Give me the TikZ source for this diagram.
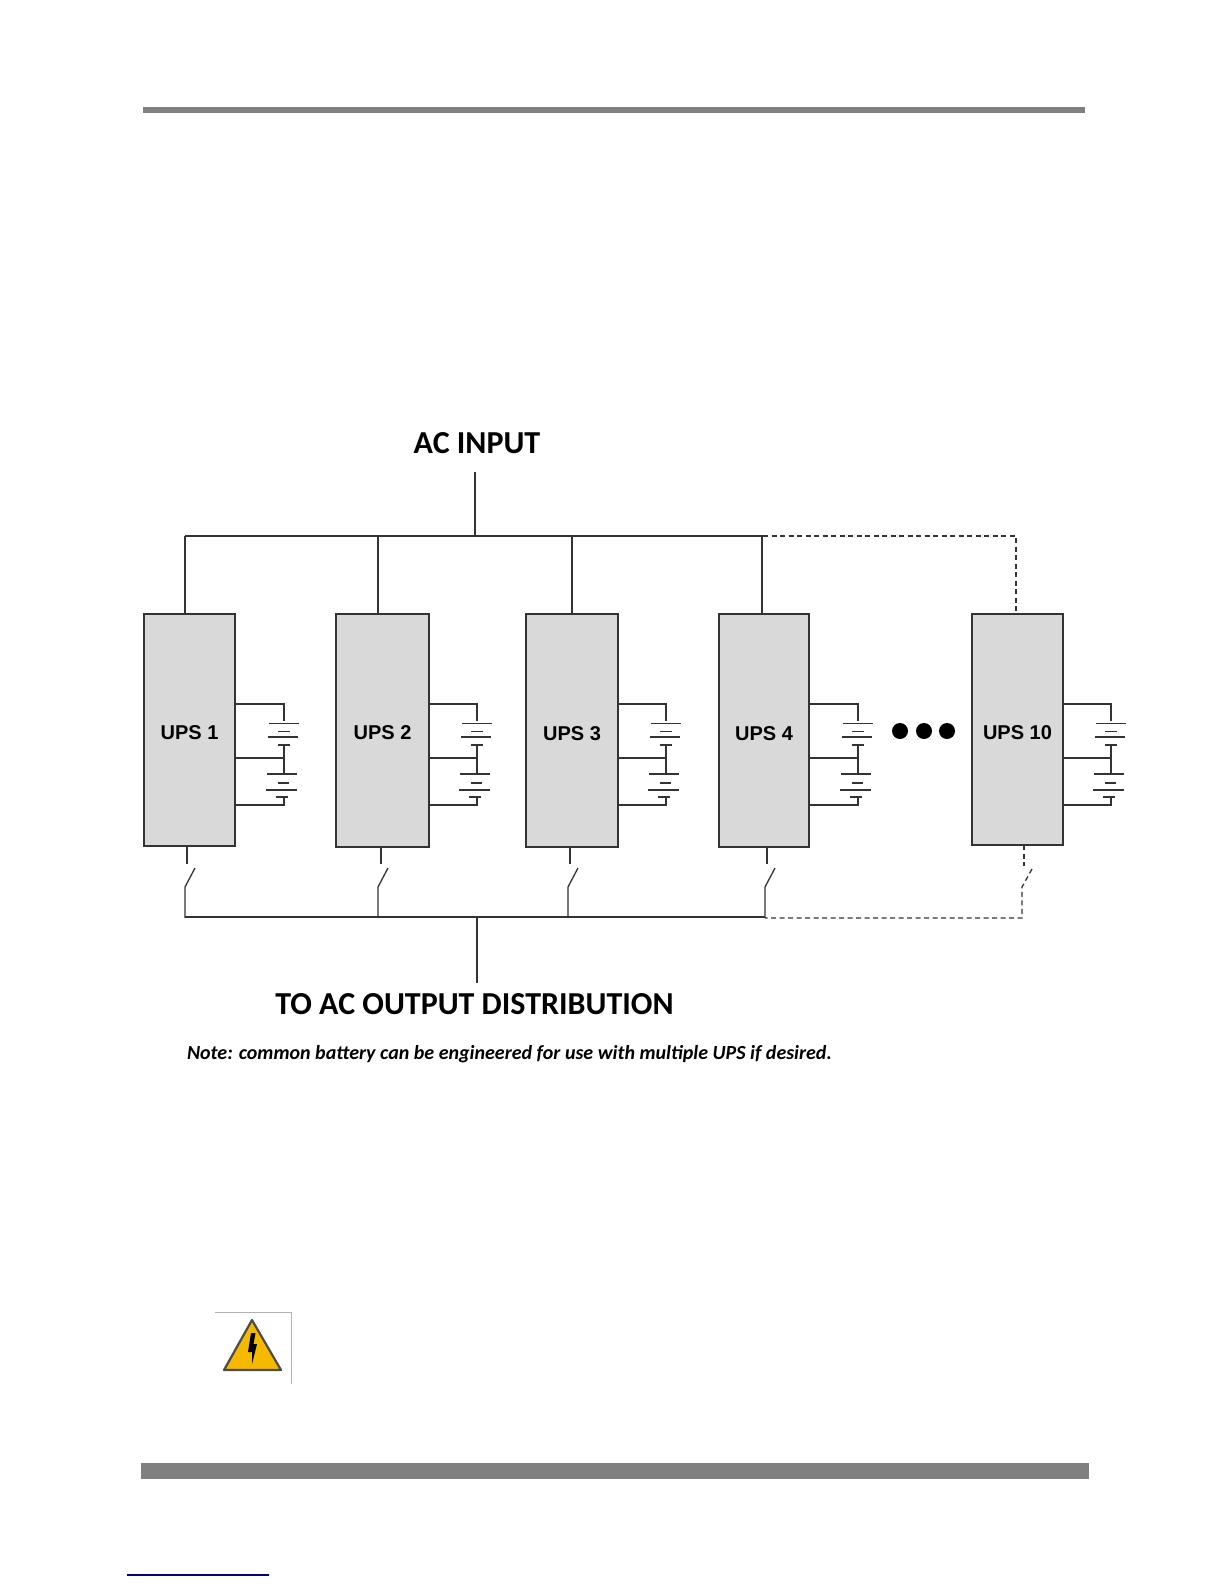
\documentclass[tikz,border=0pt]{standalone}
\usepackage{fontspec}
\setmainfont{Carlito}
\newfontfamily\upsfont{Liberation Sans}
\usetikzlibrary{positioning}
\definecolor{barcol}{HTML}{808080}
\definecolor{upsfill}{HTML}{D9D9D9}
\definecolor{wirecol}{HTML}{333333}
\definecolor{signcol}{HTML}{F5BA00}
\tikzset{
  upsbox/.style = {
    rectangle, draw=wirecol, fill=upsfill, line width=1.3pt,
    inner sep=0pt, outer sep=0pt, minimum width=#1,
    text height=18.3pt, text depth=0pt,
    font=\upsfont\fontsize{20}{22}\selectfont\bfseries
  },
  wire/.style = {line width=1.3pt, wirecol},
  dwire/.style = {line width=1.3pt, wirecol, dash pattern=on 5pt off 3.5pt},
  plate/.style = {line width=1.4pt, wirecol},
  title/.style = {inner sep=0pt, font=\fontsize{32}{34}\selectfont\bfseries},
  dotmark/.style = {circle, fill=black, inner sep=0pt, minimum size=16pt}
}
\begin{document}
\begin{tikzpicture}[x=1pt, y=-1pt]
\useasboundingbox (0,0) rectangle (1224,1584);

% page rules
\fill[barcol] (143,107) rectangle (1085,113);
\fill[barcol] (141,1463) rectangle (1089,1479);
\draw[line width=1.2pt, blue!50!black] (127,1575) -- (269,1575);

% titles
\node[title] (acin) at (477,443) {AC INPUT};
\node[title] (acout) at (474.5,1004) {TO AC OUTPUT DISTRIBUTION};
\node[inner sep=0pt, font=\fontsize{20}{22}\selectfont\bfseries\itshape] (note) at (509.5,1054)
      {Note: common battery can be engineered for use with multiple UPS if desired.};

% UPS blocks
\node[upsbox=91pt, minimum height=232pt] (u1) at (189.5,730) {UPS 1};
\node[upsbox=93pt, minimum height=233pt] (u2) at (382.5,730.5) {UPS 2};
\node[upsbox=92pt, minimum height=233pt, text height=20pt] (u3) at (572,730.5) {UPS 3};
\node[upsbox=90pt, minimum height=233pt, text height=20pt] (u4) at (764,730.5) {UPS 4};
\node[upsbox=91pt, minimum height=231pt, text height=20pt] (u10) at (1017.5,729.5) {UPS 10};

\foreach \x/\y in {900/d1, 924/d2, 947/d3}
  \node[dotmark] (\y) at (\x,731) {};

% input bus
\coordinate (tin) at (475,472);
\coordinate (tbus) at (475,536);
\coordinate (tend) at (763,536);
\draw[wire] (tin) -- (tbus);
\draw[wire] (185,536) -- (tend);
\draw[wire] (185,536) -- (u1.north -| 185,0);
\foreach \u/\x in {u2/378, u3/572, u4/762}
  \draw[wire] (\x,536) -- (\u.north -| \x,0);
\draw[dwire] (tend) -- (1016,536) -- (u10.north -| 1016,0);

% output bus
\coordinate (bbus) at (477,917);
\coordinate (bend) at (765,917);
\draw[wire] (185,917) -- (bend);
\draw[wire] (bbus) -- (477,983);
\foreach \u/\a/\b in {u1/187/185, u2/381/378, u3/570/568, u4/767/765} {
  \draw[wire] (\u.south -| \a,0) -- (\a,864);
  \draw[wire] (\b+10,868) -- (\b,887) -- (\b,918);
}
\draw[dwire] (u10.south -| 1024,0) -- (1024,866);
\draw[dwire] (1032,869) -- (1022,887) -- (1022,918) -- (bend |- 0,918);

% batteries
\foreach \u/\x in {u1/284, u2/477, u3/666, u4/858, u10/1111} {
  \draw[wire] (\u.east |- 0,704) -- (\x,704) -- (\x,721);
  \draw[wire] (\u.east |- 0,758) -- (\x,758);
  \draw[wire] (\x,745) -- (\x,774);
  \draw[wire] (\u.east |- 0,805) -- (\x,805) -- (\x,797);
  \draw[plate] (\x-15,723.5) -- (\x+15,723.5);
  \draw[plate] (\x-6,731.5) -- (\x+6,731.5);
  \draw[plate] (\x-16,737) -- (\x+14,737);
  \draw[plate] (\x-6,745) -- (\x+6,745);
  \draw[plate] (\x-17,774) -- (\x+13,774);
  \draw[plate] (\x-6,783) -- (\x+5,783);
  \draw[plate] (\x-18,790) -- (\x+13,790);
  \draw[plate] (\x-8,797) -- (\x+4,797);
}

% warning sign
\draw[line width=0.8pt, black!30] (215,1312) -- (291,1312) -- (291,1384);
\draw[line width=2.2pt, line join=round, fill=signcol, draw=black!70] (252,1320) -- (224,1370) -- (281,1370) -- cycle;
\fill[black] (251,1333) -- (255.5,1333) -- (253.5,1344) -- (257,1344) -- (252,1364) -- (252,1352) -- (248,1352) -- cycle;

\end{tikzpicture}
\end{document}
